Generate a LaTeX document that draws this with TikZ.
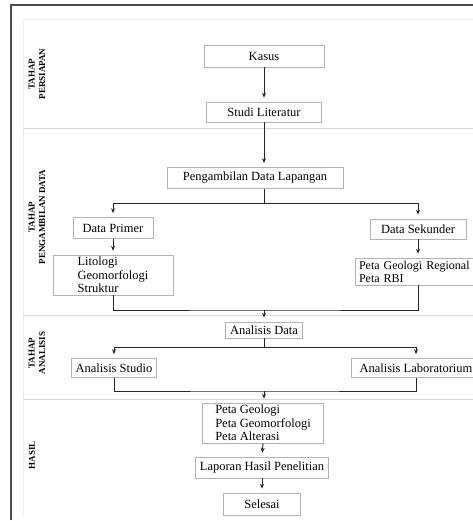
\documentclass[tikz,border=0pt]{standalone}
\usepackage{fontspec}
\setmainfont{Liberation Serif}
\usetikzlibrary{arrows.meta}
\begin{document}
\begin{tikzpicture}[x=1pt,y=-1pt,
  box/.style={draw=gray!60, line width=0.6pt, inner sep=2pt, align=center,
    font=\fontsize{12.5}{13.5}\selectfont},
  mbox/.style={box, align=left},
  lab/.style={font=\fontsize{9}{10.5}\selectfont\bfseries, rotate=90, align=center},
  ln/.style={draw=black!85, line width=0.9pt},
  arr/.style={ln, -{Stealth[length=5pt,width=4pt]}, shorten >=4pt},
  sep/.style={draw=gray!30, line width=0.8pt}]
\useasboundingbox (0,0) rectangle (472,521);
% frame and separators
\draw[draw=gray!15, line width=0.6pt] (23,19) -- (23,516);
\draw[draw=gray!15, line width=0.6pt] (23,19) -- (490,19);
\draw[sep] (23,128) -- (490,128);
\draw[sep] (23,315) -- (490,315);
\draw[sep] (23,399) -- (490,399);
\draw[draw=black!70, line width=1.6pt] (11,520) -- (11,5) -- (490,5);
% stage labels
\node[lab] (l1) at (37,74) {TAHAP\\PERSIAPAN};
\node[lab] (l2) at (37,217) {TAHAP\\PENGAMBILAN DATA};
\node[lab] (l3) at (37,353) {TAHAP\\ANALISIS};
\node[lab] (l4) at (32,455) {HASIL};
% nodes
\node[box, minimum width=120pt, minimum height=22pt] (kasus) at (264,56) {Kasus};
\node[box, minimum width=115pt, minimum height=20pt] (studi) at (264,112) {Studi Literatur};
\node[box, minimum width=176pt, minimum height=21pt] (peng) at (255,178) {Pengambilan Data Lapangan};
\node[box, minimum width=80pt, minimum height=21pt] (primer) at (113,228) {Data Primer};
\node[box, minimum width=96pt, minimum height=20pt] (sekunder) at (418,229) {Data Sekunder};
\node[mbox, minimum width=120pt, minimum height=38pt] (lit) at (113,275) {Litologi\\Geomorfologi\\Struktur};
\node[mbox, minimum width=126pt, minimum height=27pt, text width=118pt,
  font=\fontsize{12}{13}\selectfont] (petareg) at (418,271.5) {Peta Geologi Regional\\Peta RBI};
\node[box, minimum width=77pt, minimum height=16pt] (adata) at (264,330) {Analisis Data};
\node[box, minimum width=85pt, minimum height=19pt] (studio) at (114,368) {Analisis Studio};
\node[box, minimum width=130pt, minimum height=19pt] (lab) at (416,368) {Analisis Laboratorium};
\node[mbox, minimum width=121pt, minimum height=40pt] (hasil) at (263,423) {Peta Geologi\\Peta Geomorfologi\\Peta Alterasi};
\node[box, minimum width=133pt, minimum height=21pt] (lapor) at (262,467.5) {Laporan Hasil Penelitian};
\node[box, minimum width=77pt, minimum height=22pt] (selesai) at (262,504) {Selesai};
% junction points
\coordinate (b1) at (264,203);
\coordinate (m1) at (264,310);
\coordinate (b2) at (264,347);
\coordinate (m2) at (264,391);
% connectors
\draw[arr] (kasus.south) -- (studi.north);
\draw[arr] (studi.south) -- (studi.south |- peng.north);
\draw[ln] (peng.south -| b1) -- (b1);
\draw[arr] (b1) -| (primer.north);
\draw[arr] (b1) -| (sekunder.north);
\draw[arr] (primer.south) -- (lit.north);
\draw[arr] (sekunder.south) -- (petareg.north);
\draw[ln] (lit.south) |- (m1) -| (petareg.south);
\draw[arr] (m1) -- (adata.north);
\draw[ln] (adata.south) -- (b2);
\draw[arr] (b2) -| (studio.north);
\draw[arr] (b2) -| (lab.north);
\draw[ln] (studio.south) |- (m2) -| (lab.south);
\draw[arr] (m2) -- (m2 |- hasil.north);
\draw[arr] (hasil.south) -- (lapor.north);
\draw[arr] (lapor.south) -- (selesai.north);
\end{tikzpicture}
\end{document}
